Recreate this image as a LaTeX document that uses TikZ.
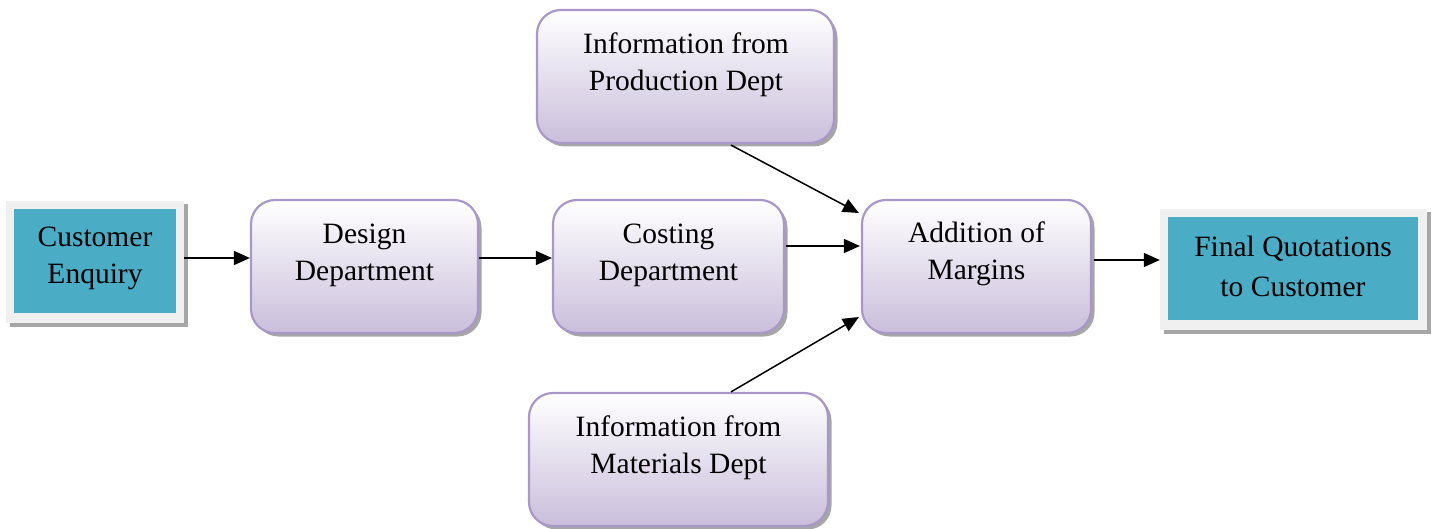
\documentclass[tikz,border=0pt]{standalone}
\usepackage{fontspec}
\setmainfont{Liberation Serif}
\usetikzlibrary{shadows,arrows.meta}
\definecolor{teal}{HTML}{4BACC6}
\definecolor{lavb}{HTML}{A898C8}
\definecolor{lavf}{HTML}{CABEDB}
\definecolor{frame}{HTML}{F0F0F0}
\begin{document}
\begin{tikzpicture}[x=1pt,y=-1pt,
  shad/.style={drop shadow={shadow xshift=3.5pt,shadow yshift=-3.5pt,fill=gray!70,opacity=1}},
  rbox/.style={draw=lavb,line width=2.2pt,rounded corners=24pt,top color=white,bottom color=lavf,shad},
  outerbox/.style={fill=frame,draw=none,shad},
  innerbox/.style={fill=teal,draw=none},
  txt/.style={align=center,font=\fontsize{29.5}{37}\selectfont},
  arr/.style={-{Triangle[length=16pt,width=14pt]},line width=1.5pt}]
\useasboundingbox (0,0) rectangle (1434,529);
% left and right teal boxes
\node[outerbox,minimum width=178pt,minimum height=122pt] (ce) at (95,262) {};
\node[innerbox,minimum width=162pt,minimum height=104pt] (cein) at (95,261) {};
\node[txt] (cet) at (95,258) {Customer\\Enquiry};
\node[outerbox,minimum width=267pt,minimum height=121pt] (fq) at (1293.5,269.5) {};
\node[innerbox,minimum width=250pt,minimum height=103pt] (fqin) at (1293,268.5) {};
\node[txt,font=\fontsize{29.5}{40}\selectfont] (fqt) at (1293,266) {Final Quotations\\to Customer};
% rounded boxes
\node[rbox,minimum width=227pt,minimum height=133pt] (des) at (364.5,266.5) {};
\node[txt] (dest) at (364.5,255) {Design\\Department};
\node[rbox,minimum width=231pt,minimum height=133pt] (cos) at (668.5,266.5) {};
\node[txt] (cost) at (668.5,255) {Costing\\Department};
\node[rbox,minimum width=229pt,minimum height=133pt] (add) at (976.5,266.5) {};
\node[txt] (addt) at (976.5,254) {Addition of\\Margins};
\node[rbox,minimum width=297pt,minimum height=133pt] (pro) at (685.5,76.5) {};
\node[txt] (prot) at (686,65) {Information from\\Production Dept};
\node[rbox,minimum width=299pt,minimum height=133pt] (mat) at (678.5,459.5) {};
\node[txt] (matt) at (678.5,448) {Information from\\Materials Dept};
% connectors
\draw[arr] ([yshift=4pt]ce.east) -- ([yshift=8.5pt]des.west);
\draw[arr] ([yshift=8.5pt]des.east) -- ([yshift=8.5pt]cos.west);
\draw[arr] ([xshift=1pt,yshift=20.5pt]cos.east) -- ([xshift=-1pt,yshift=20.5pt]add.west);
\draw[arr] ([xshift=45.5pt,yshift=-1pt]pro.south) -- ([xshift=-2pt,yshift=53.5pt]add.west);
\draw[arr] ([xshift=52.5pt]mat.north) -- ([xshift=-2pt,yshift=-50.5pt]add.west);
\draw[arr] ([xshift=2pt,yshift=6.5pt]add.east) -- ([yshift=9.5pt]fq.west);
\end{tikzpicture}
\end{document}
